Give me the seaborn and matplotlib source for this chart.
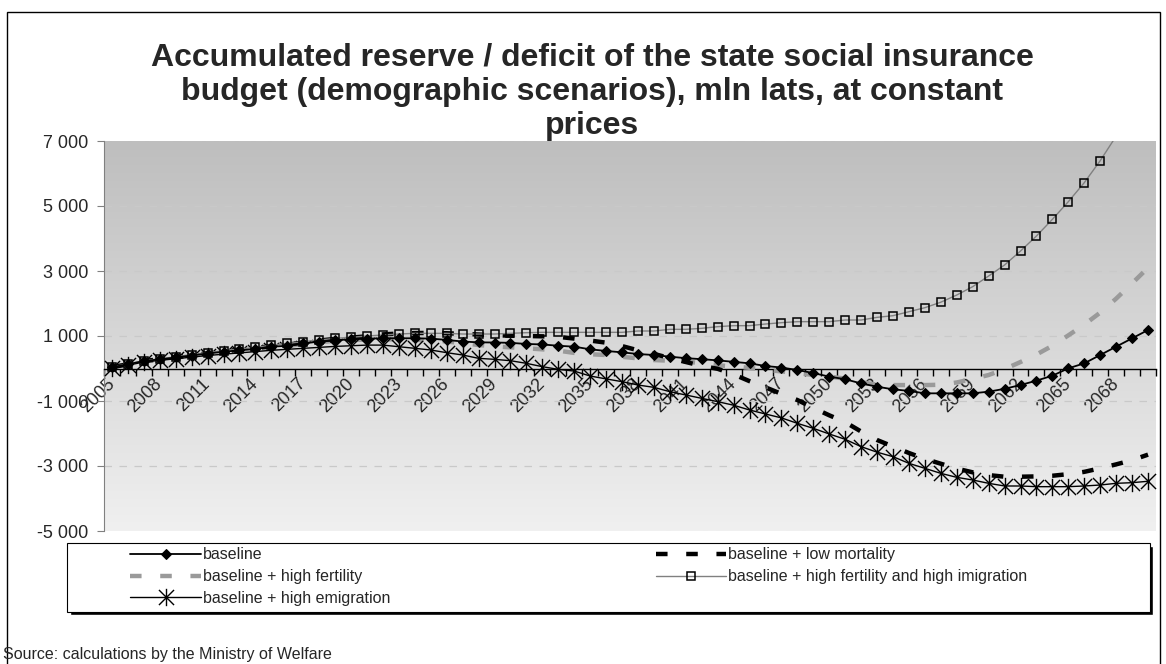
import numpy as np
import pandas as pd
import seaborn as sns
import matplotlib.pyplot as plt
from matplotlib.path import Path
from matplotlib.patches import Rectangle
from matplotlib.ticker import FixedLocator, FuncFormatter


years = list(range(2005, 2071))

baseline = [40, 130, 230, 280, 340, 400, 460, 515, 560, 600,
            670, 700, 770, 830, 870, 900, 920, 930, 930, 930,
            920, 880, 830, 805, 800, 790, 755, 740, 700, 672,
            590, 540, 497, 446, 415, 364, 318, 287, 250, 205,
            159, 77, 30, -46, -140, -250, -330, -460, -560, -640,
            -690, -764, -764, -764, -764, -713, -625, -508, -374, -221,
            5, 159, 415, 672, 928, 1185]

low_mortality = [40, 130, 230, 285, 345, 410, 470, 530, 580, 630,
                 690, 730, 800, 860, 910, 950, 990, 1050, 1075, 1090,
                 1095, 1085, 1065, 1045, 1025, 1010, 1000, 990, 975, 920,
                 860, 795, 690, 560, 450, 320, 200, 80, -10, -180,
                 -390, -580, -780, -970, -1210, -1440, -1650, -1940, -2200, -2400,
                 -2600, -2780, -2930, -3080, -3195, -3280, -3330, -3330, -3320, -3300,
                 -3250, -3180, -3070, -2950, -2820, -2650]

high_fertility = [40, 130, 225, 275, 335, 395, 455, 505, 550, 590,
                  655, 690, 755, 810, 850, 875, 890, 895, 895, 885,
                  865, 830, 780, 723, 680, 651, 621, 590, 549, 480,
                  440, 415, 360, 313, 260, 240, 215, 160, 100, 60,
                  20, -40, -90, -140, -200, -250, -310, -420, -500, -510,
                  -510, -510, -500, -430, -320, -200, -20, 200, 430, 700,
                  1020, 1350, 1720, 2150, 2620, 3100]

fertility_immigration = [50, 140, 240, 300, 360, 430, 490, 550, 600, 650,
                         720, 770, 826, 877, 928, 959, 1000, 1031, 1061, 1082,
                         1082, 1082, 1061, 1061, 1061, 1082, 1102, 1113, 1113, 1113,
                         1113, 1113, 1113, 1154, 1154, 1205, 1205, 1236, 1287, 1318,
                         1318, 1369, 1410, 1441, 1441, 1441, 1492, 1492, 1574, 1625,
                         1748, 1871, 2040, 2261, 2518, 2846, 3185, 3615, 4077, 4590,
                         5133, 5718, 6394, 7150, 8000, 8900]

emigration = [20, 100, 200, 250, 300, 350, 400, 440, 480, 520,
              560, 590, 620, 650, 680, 700, 720, 720, 670, 621,
              569, 487, 415, 313, 282, 240, 159, 56, -26, -80,
              -231, -320, -405, -508, -580, -713, -815, -918, -1020, -1130,
              -1277, -1400, -1520, -1687, -1841, -2015, -2179, -2405, -2575, -2713,
              -2918, -3072, -3226, -3349, -3431, -3533, -3615, -3615, -3636, -3636,
              -3636, -3615, -3585, -3533, -3513, -3470]

labels = ['baseline', 'baseline + high fertility', 'baseline + high emigration',
          'baseline + low mortality', 'baseline + high fertility and high imigration']

title = ('Accumulated reserve / deficit of the state social insurance\n'
         'budget (demographic scenarios), mln lats, at constant\nprices')
source = 'Source: calculations by the Ministry of Welfare'

df = pd.DataFrame({'year': years, 'baseline': baseline, 'low': low_mortality,
                   'fert': high_fertility, 'fert_imm': fertility_immigration,
                   'emig': emigration})

sns.set_style('white')
plt.rcParams['font.family'] = ['Liberation Sans', 'DejaVu Sans']

W, H = 1166, 664
fig = plt.figure(figsize=(W / 100, H / 100), dpi=100)
ax = fig.add_axes([104 / W, 1 - 531 / H, (1156 - 104) / W, (531 - 141) / H])

# gradient background of the plot area
grad = np.linspace(0, 1, 256).reshape(-1, 1)
ax.imshow(grad, extent=[0, 1, 0, 1], transform=ax.transAxes, aspect='auto',
          cmap=plt.matplotlib.colors.LinearSegmentedColormap.from_list('bg', ['#f0f0f0', '#bebebe']),
          origin='lower', zorder=0)

for g in [5000, 3000, 1000, -1000, -3000]:
    ax.axhline(g, color='#c9c9c9', lw=0.9, ls=(0, (6, 6)), zorder=1)

# asterisk marker like the spreadsheet's "star"
star = Path([(-1, -1), (1, 1), (-1, 1), (1, -1), (0, -1.15), (0, 1.15)],
            [Path.MOVETO, Path.LINETO] * 3)

sns.lineplot(data=df, x='year', y='baseline', ax=ax, color='black', lw=1.3,
             marker='D', markersize=5, markerfacecolor='black',
             markeredgecolor='black', label=labels[0], zorder=5)
sns.lineplot(data=df, x='year', y='fert', ax=ax, color='#9a9a9a', lw=3.2,
             linestyle=(0, (2.6, 4.2)), label=labels[1], zorder=3)
sns.lineplot(data=df, x='year', y='emig', ax=ax, color='black', lw=1,
             marker=star, markersize=12.5, markerfacecolor='none',
             markeredgecolor='black', markeredgewidth=1, label=labels[2], zorder=4)
sns.lineplot(data=df, x='year', y='low', ax=ax, color='black', lw=3.2,
             linestyle=(0, (2.6, 4.2)), label=labels[3], zorder=3)
sns.lineplot(data=df, x='year', y='fert_imm', ax=ax, color='#808080', lw=1,
             marker='s', markersize=6, markerfacecolor='none',
             markeredgecolor='black', markeredgewidth=1.1, label=labels[4], zorder=4)

ax.set_xlim(2004.5, 2070.5)
ax.set_ylim(-5000, 7000)
ax.set_xlabel('')
ax.set_ylabel('')

# spine position first: moving the spine resets the tick objects
ax.spines['bottom'].set_position(('data', 0))
ax.spines['bottom'].set_color('black')
ax.spines['bottom'].set_linewidth(1)
ax.spines['left'].set_color('#808080')
ax.spines['top'].set_visible(False)
ax.spines['right'].set_visible(False)

ax.set_yticks(range(-5000, 7001, 2000))
ax.yaxis.set_major_formatter(FuncFormatter(lambda v, p: f'{int(v):,}'.replace(',', ' ')))
ax.tick_params(axis='y', length=5, width=0.8, color='#808080', labelsize=13, pad=6, left=True)

ax.xaxis.set_minor_locator(FixedLocator([y - 0.5 for y in years] + [years[-1] + 0.5]))
ax.tick_params(axis='x', which='major', length=0, labelsize=13, pad=9, labelrotation=45)
ax.tick_params(axis='x', which='minor', length=5, width=1, color='black', bottom=True)
ax.set_xticks(years[::3], labels=[str(y) for y in years[::3]],
              ha='right', va='center', rotation_mode='anchor')

# legend box with shadow, entries placed inside it
handles, lbls = ax.get_legend_handles_labels()
ax.get_legend().remove()
fig.patches.append(Rectangle((70 / W, 1 - 615 / H), (1083) / W, (612 - 543) / H,
                             transform=fig.transFigure, facecolor='black', zorder=0))
fig.patches.append(Rectangle((67 / W, 1 - 612 / H), (1083) / W, (612 - 543) / H,
                             transform=fig.transFigure, facecolor='white',
                             edgecolor='black', lw=0.8, zorder=1))
fig.legend(handles, lbls, loc='upper left', bbox_to_anchor=(124 / W, 1 - 541 / H),
           ncol=2, frameon=False, fontsize=11.5, handlelength=4.4, handletextpad=0.15,
           columnspacing=16.6, labelspacing=0.42, numpoints=1, borderaxespad=0)

# outer chart border
fig.patches.append(Rectangle((7 / W, -0.02), (1160 - 7) / W, 1.02 - 12 / H,
                             transform=fig.transFigure, facecolor='none',
                             edgecolor='black', lw=1))

fig.text(592 / W, 1 - 43 / H, title, ha='center', va='top', fontsize=23,
         fontweight='bold', linespacing=1.18)
fig.text(3 / W, 1 - 655 / H, source, ha='left', va='center', fontsize=11.5)

fig.savefig('out.png', dpi=100)
